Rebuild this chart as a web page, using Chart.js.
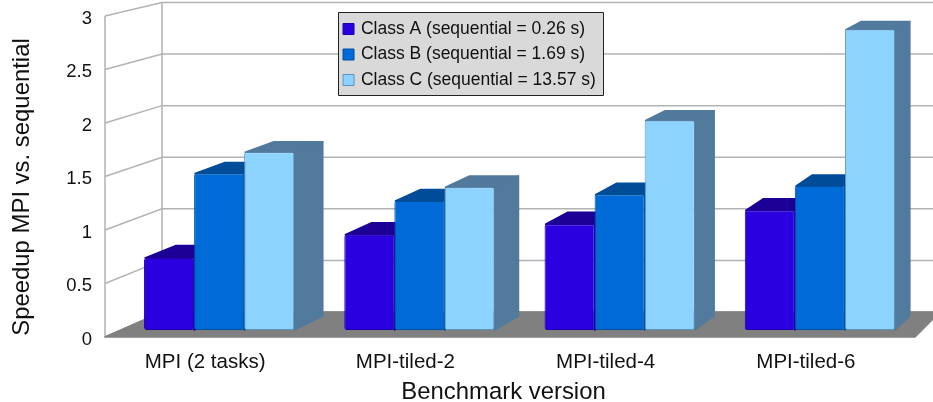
<!DOCTYPE html>
<html lang="en">
<head>
    <meta charset="UTF-8">
    <title>Speedup MPI vs. sequential</title>
    <script src="https://cdn.jsdelivr.net/npm/chart.js"></script>
    <style>
        html, body { margin: 0; padding: 0; background: #fff; overflow: hidden; }
        #wrap { width: 933px; height: 402px; }
    </style>
</head>
<body>
    <div id="wrap"><canvas id="chart"></canvas></div>

    <script>
        const versions = ["MPI (2 tasks)", "MPI-tiled-2", "MPI-tiled-4", "MPI-tiled-6"];
        const classA = [0.68, 0.90, 1.00, 1.13];
        const classB = [1.48, 1.22, 1.28, 1.36];
        const classC = [1.68, 1.35, 1.98, 2.84];
        const yTitle = "Speedup MPI vs. sequential";
        const xTitle = "Benchmark version";
        const font = "'Liberation Sans', Arial, sans-serif";

        // how far a bar's back edge sits from its front edge (fake perspective)
        const depthX = x => 0.0228 * (1548 - x);
        const depthY = y => 7.4 + 0.02 * y;

        function quad(ctx, pts, color) {
            ctx.fillStyle = color;
            ctx.strokeStyle = color;
            ctx.lineWidth = 1.5;
            ctx.lineJoin = "round";
            ctx.beginPath();
            pts.forEach((p, i) => i ? ctx.lineTo(p[0], p[1]) : ctx.moveTo(p[0], p[1]));
            ctx.closePath();
            ctx.fill();
            ctx.stroke();
        }

        // back wall, side wall, floor and legend box
        const room = {
            id: "room",
            beforeDraw(chart) {
                const ctx = chart.ctx, y = chart.scales.y, wall = chart.scales.yWall;
                const frontX = 105, backX = 162, backRight = 933;
                ctx.save();
                ctx.strokeStyle = "#b3b3b3";
                ctx.lineWidth = 1.5;
                y.ticks.forEach(t => {
                    const fy = y.getPixelForValue(t.value), by = wall.getPixelForValue(t.value);
                    ctx.beginPath();
                    ctx.moveTo(frontX, fy);
                    ctx.lineTo(backX, by);
                    ctx.lineTo(backRight, by);
                    ctx.stroke();
                });
                ctx.beginPath();
                ctx.moveTo(frontX, y.getPixelForValue(0));
                ctx.lineTo(frontX, y.getPixelForValue(3));
                ctx.moveTo(backX, wall.getPixelForValue(0));
                ctx.lineTo(backX, wall.getPixelForValue(3));
                ctx.stroke();

                const fy = y.getPixelForValue(0), by = wall.getPixelForValue(0);
                quad(ctx, [[frontX, fy], [backX, by], [940, by], [915, fy]], "#808080");

                ctx.fillStyle = "#d9d9d9";
                ctx.strokeStyle = "#222";
                ctx.lineWidth = 1;
                ctx.fillRect(338.5, 12.5, 265, 83);
                ctx.strokeRect(338.5, 12.5, 265, 83);
                ctx.restore();
            },
            afterLayout(chart) {
                const l = chart.legend;
                l.left = 336.9; l.right = 603; l.top = 12.25; l.bottom = 120;
            },
            beforeDatasetsDraw(chart) {
                const ctx = chart.ctx;
                ctx.save();
                chart.data.datasets.forEach((ds, i) => {
                    chart.getDatasetMeta(i).data.forEach(bar => {
                        const l = bar.x - bar.width / 2, r = bar.x + bar.width / 2;
                        const t = bar.y, b = bar.base;
                        const top = [[l + 1, t], [r, t], [r + depthX(r), t - depthY(t)], [l + depthX(l), t - depthY(t)]];
                        quad(ctx, top, ds.topColor);
                        quad(ctx, [[r, t], [r, b], [r + depthX(r), b - depthY(b)], [r + depthX(r), t - depthY(t)]], ds.topColor);
                    });
                });
                ctx.restore();
            },
            afterDraw(chart) {
                const ctx = chart.ctx;
                ctx.save();
                ctx.fillStyle = "#111";
                ctx.font = "23.9px " + font;
                ctx.textAlign = "center";
                ctx.textBaseline = "alphabetic";
                ctx.fillText(xTitle, 503.5, 399);
                ctx.translate(29, 187);
                ctx.rotate(-Math.PI / 2);
                ctx.fillText(yTitle, 0, 0);
                ctx.restore();
            }
        };

        new Chart(document.getElementById("chart"), {
            type: "bar",
            plugins: [room],
            data: {
                labels: versions,
                datasets: [
                    { label: "Class A (sequential = 0.26 s)", data: classA, yAxisID: "yBars", backgroundColor: "#2a00e0", borderColor: "#1f00a8", topColor: "#1c0096" },
                    { label: "Class B (sequential = 1.69 s)", data: classB, yAxisID: "yBars", backgroundColor: "#006ad6", borderColor: "#00509f", topColor: "#004c99" },
                    { label: "Class C (sequential = 13.57 s)", data: classC, yAxisID: "yBars", backgroundColor: "#8cd3ff", borderColor: "#5f93bf", topColor: "#527a9c" }
                ]
            },
            options: {
                responsive: true,
                maintainAspectRatio: false,
                animation: false,
                layout: { autoPadding: false, padding: { top: 16, right: 13, left: 0, bottom: 0 } },
                datasets: {
                    bar: { barPercentage: 1, categoryPercentage: 0.75, borderWidth: 1, borderRadius: 2, borderSkipped: false }
                },
                scales: {
                    x: {
                        grid: { display: false },
                        border: { display: false },
                        afterFit: s => { s.height = 65; },
                        ticks: { font: { family: font, size: 20.5 }, color: "#111", labelOffset: -14, padding: 5, maxRotation: 0 }
                    },
                    y: {
                        min: 0, max: 3,
                        grid: { display: false },
                        border: { display: false },
                        // tick padding would otherwise push the chart area down
                        afterFit: s => { s.width = 119; s.paddingTop = 0; s.paddingBottom = 0; },
                        ticks: { stepSize: 0.5, font: { family: font, size: 18.5 }, color: "#111", padding: 19, labelOffset: 2.5, callback: v => String(v) }
                    },
                    // bars stand a little behind the front edge of the floor
                    yBars: { display: false, min: -0.0662, max: 2.968 },
                    // grid lines on the back wall
                    yWall: { display: false, min: -0.2427, max: 2.869 }
                },
                plugins: {
                    tooltip: { enabled: false },
                    legend: {
                        position: "chartArea",
                        align: "start",
                        fullSize: false,
                        labels: { boxWidth: 7.25, boxHeight: 11, usePointStyle: true, pointStyle: "rect", padding: 8, color: "#111", font: { family: font, size: 17.5 } }
                    }
                }
            }
        });
    </script>
</body>
</html>
